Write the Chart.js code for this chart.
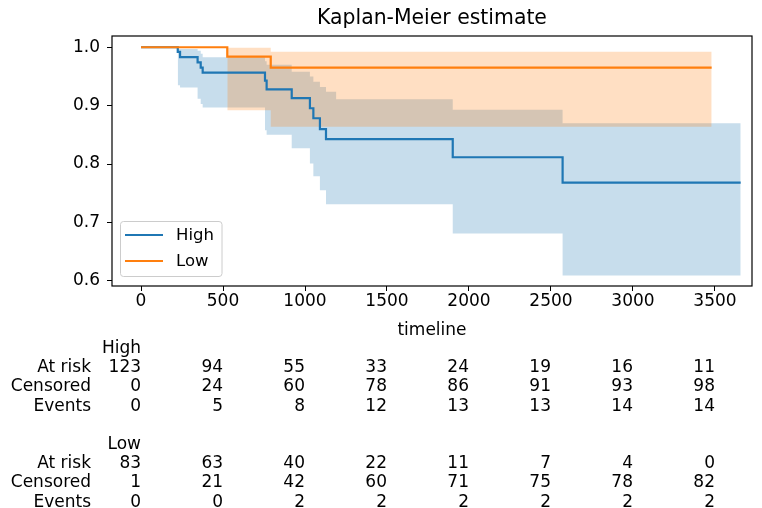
<!DOCTYPE html>
<html>
<head>
<meta charset="utf-8">
<script src="https://cdn.jsdelivr.net/npm/chart.js@4/dist/chart.umd.min.js"></script>
<style>
  html, body { margin: 0; padding: 0; background: #fff; }
  #wrap { width: 762px; height: 508px; position: relative; }
</style>
</head>
<body>
<div id="wrap"><canvas id="grafica"></canvas></div>
<script>
// survival curves
const highTime = [0, 224, 238, 345, 364, 376, 756, 766, 919, 1030, 1051, 1091, 1128, 1901, 2571, 3657];
const highSurv = [1, 0.992, 0.983, 0.974, 0.965, 0.9565, 0.943, 0.928, 0.9127, 0.8955, 0.8784, 0.8596, 0.8425, 0.8116, 0.7682, 0.7682];
const lowTime = [0, 526, 791, 3480];
const lowSurv = [1, 0.984, 0.965, 0.965];

// confidence bands
const highCiTime = [224, 238, 345, 364, 376, 756, 766, 919, 1030, 1051, 1091, 1128, 1190, 1901, 2571, 3657];
const highCiUpper = [0.997, 0.997, 0.994, 0.989, 0.983, 0.976, 0.970, 0.958, 0.950, 0.941, 0.932, 0.924, 0.911, 0.893, 0.870, 0.870];
const highCiLower = [0.935, 0.931, 0.912, 0.903, 0.897, 0.858, 0.850, 0.827, 0.801, 0.779, 0.755, 0.731, 0.731, 0.681, 0.609, 0.609];
const lowCiTime = [526, 791, 3480];
const lowCiUpper = [0.999, 0.9925, 0.9925];
const lowCiLower = [0.892, 0.864, 0.864];

// ticks
const xTicks = [0, 500, 1000, 1500, 2000, 2500, 3000, 3500];
const yTicks = [0.6, 0.7, 0.8, 0.9, 1.0];

// at-risk table
const highAtRisk = [123, 94, 55, 33, 24, 19, 16, 11];
const highCensored = [0, 24, 60, 78, 86, 91, 93, 98];
const highEvents = [0, 5, 8, 12, 13, 13, 14, 14];
const lowAtRisk = [83, 63, 40, 22, 11, 7, 4, 0];
const lowCensored = [1, 21, 42, 60, 71, 75, 78, 82];
const lowEvents = [0, 0, 2, 2, 2, 2, 2, 2];

const blue = '#1f77b4';
const orange = '#ff7f0e';
const FONT = "'DejaVu Sans', sans-serif";
const FS = 17;

Chart.defaults.font.family = FONT;
Chart.defaults.font.size = FS;
Chart.defaults.color = '#000';

const pts = (xs, ys) => xs.map((x, i) => ({x: x, y: ys[i]}));

const bandStyle = {
  borderWidth: 0,
  pointRadius: 0,
  stepped: true,
};

// box around the axes + title centred over the plot
const frame = {
  id: 'frame',
  afterDatasetsDraw(chart) {
    const {ctx, chartArea: a} = chart;
    ctx.save();
    ctx.strokeStyle = '#000';
    ctx.lineWidth = 1.2;
    ctx.strokeRect(a.left, a.top, a.right - a.left, a.bottom - a.top);
    ctx.font = '20.4px ' + FONT;
    ctx.fillStyle = '#000';
    ctx.textAlign = 'center';
    ctx.textBaseline = 'middle';
    ctx.fillText('Kaplan-Meier estimate', (a.left + a.right) / 2, 19);
    ctx.restore();
  }
};

const legendBox = {
  id: 'legendBox',
  afterDraw(chart) {
    const ctx = chart.ctx;
    ctx.save();
    ctx.fillStyle = 'rgba(255,255,255,0.8)';
    ctx.strokeStyle = '#cccccc';
    ctx.lineWidth = 1;
    ctx.beginPath();
    ctx.roundRect(120.5, 221.5, 101.5, 55, 3);
    ctx.fill();
    ctx.stroke();
    const items = [['High', blue, 235], ['Low', orange, 261]];
    ctx.font = '16.5px ' + FONT;
    ctx.textBaseline = 'middle';
    ctx.textAlign = 'left';
    items.forEach(([label, col, y]) => {
      ctx.strokeStyle = col;
      ctx.lineWidth = 2;
      ctx.beginPath();
      ctx.moveTo(125, y);
      ctx.lineTo(163, y);
      ctx.stroke();
      ctx.fillStyle = '#000';
      ctx.fillText(label, 176, y + 1);
    });
    ctx.restore();
  }
};

const riskTable = {
  id: 'riskTable',
  afterDraw(chart) {
    const ctx = chart.ctx;
    const xs = chart.scales.x;
    ctx.save();
    ctx.font = FS + 'px ' + FONT;
    ctx.fillStyle = '#000';
    ctx.textBaseline = 'middle';
    const groups = [
      ['High', 348.5, [['At risk', highAtRisk], ['Censored', highCensored], ['Events', highEvents]]],
      ['Low', 444.5, [['At risk', lowAtRisk], ['Censored', lowCensored], ['Events', lowEvents]]],
    ];
    const x0 = xs.getPixelForValue(xTicks[0]);
    groups.forEach(([name, y, rows]) => {
      ctx.textAlign = 'right';
      ctx.fillText(name, x0, y);
      rows.forEach(([label, vals], r) => {
        const yy = y + 19.3 + r * 19.2;
        ctx.textAlign = 'right';
        ctx.fillText(label, 91, yy);
        vals.forEach((v, i) => {
          ctx.fillText(String(v), xs.getPixelForValue(xTicks[i]), yy);
        });
      });
    });
    ctx.restore();
  }
};

new Chart(document.getElementById('grafica'), {
  type: 'line',
  data: {
    datasets: [
      {label: 'Low', data: pts(lowTime, lowSurv), borderColor: orange, borderWidth: 2.2, pointRadius: 0, stepped: true, fill: false},
      {label: 'High', data: pts(highTime, highSurv), borderColor: blue, borderWidth: 2.2, pointRadius: 0, stepped: true, fill: false},
      Object.assign({label: 'Low CI upper', data: pts(lowCiTime, lowCiUpper), backgroundColor: 'rgba(255,127,14,0.25)', fill: '+1'}, bandStyle),
      Object.assign({label: 'Low CI lower', data: pts(lowCiTime, lowCiLower), fill: false}, bandStyle),
      Object.assign({label: 'High CI upper', data: pts(highCiTime, highCiUpper), backgroundColor: 'rgba(31,119,180,0.25)', fill: '+1'}, bandStyle),
      Object.assign({label: 'High CI lower', data: pts(highCiTime, highCiLower), fill: false}, bandStyle),
    ]
  },
  options: {
    responsive: true,
    maintainAspectRatio: false,
    animation: false,
    layout: {padding: {left: 0, right: 10, top: 36, bottom: 162.8}},
    scales: {
      x: {
        type: 'linear',
        min: -177,
        max: 3726,
        afterBuildTicks: s => { s.ticks = xTicks.map(v => ({value: v})); },
        afterFit: s => { s.height = 59.2; },
        ticks: {callback: v => String(v), padding: 0, maxRotation: 0, color: '#000'},
        grid: {drawOnChartArea: false, drawTicks: true, tickLength: 5, tickColor: '#000'},
        border: {display: false},
        title: {display: true, text: 'timeline', color: '#000', padding: {top: 4, bottom: 4}}
      },
      y: {
        type: 'linear',
        min: 0.591,
        max: 1.0193,
        afterBuildTicks: s => { s.ticks = yTicks.map(v => ({value: v})); },
        afterFit: s => { s.width = 112; },
        ticks: {callback: v => v.toFixed(1), padding: 7, color: '#000'},
        grid: {drawOnChartArea: false, drawTicks: true, tickLength: 5, tickColor: '#000'},
        border: {display: false}
      }
    },
    plugins: {
      legend: {display: false},
      tooltip: {enabled: false},
      title: {display: false}
    }
  },
  plugins: [frame, legendBox, riskTable]
});
</script>
</body>
</html>
